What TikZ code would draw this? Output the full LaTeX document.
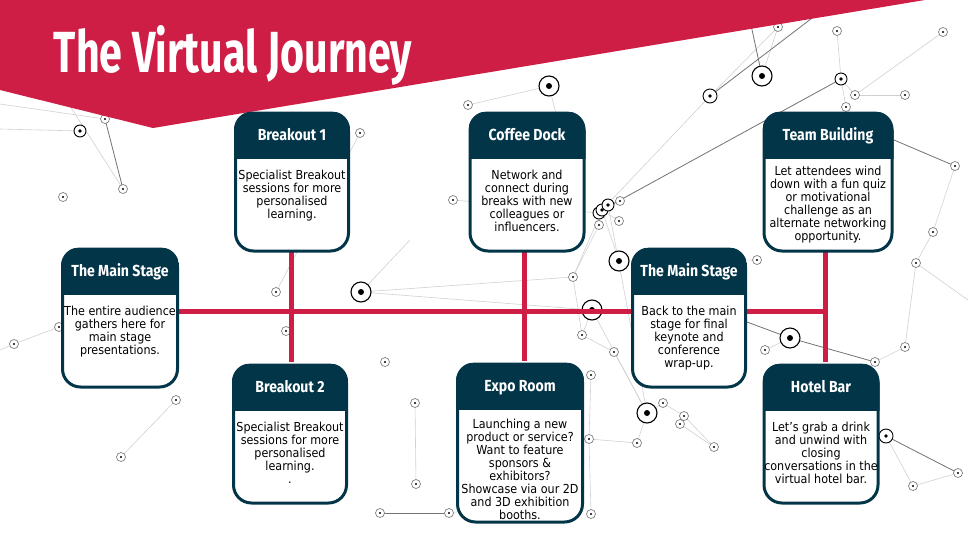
\documentclass[tikz,border=0pt]{standalone}
\usepackage{fontspec}
\setmainfont{DejaVu Sans}
\newfontfamily\bodyfont[FakeStretch=0.9]{DejaVu Sans}
\newfontfamily\bannerfont[FakeStretch=0.71]{Fira Sans}
\newfontfamily\headfont[FakeStretch=0.88]{Fira Sans}
\usetikzlibrary{calc}

\definecolor{stagenavy}{RGB}{3,53,73}
\definecolor{journeyred}{RGB}{206,30,70}

\begin{document}
\begin{tikzpicture}[x=1pt,y=-1pt,
    netline/.style={draw=black!18,line width=0.6pt},
    netdark/.style={draw=black!55,line width=0.8pt},
    ring/.style={draw=black!50,line width=0.7pt,fill=white},
    bigring/.style={draw=black,line width=1.1pt,fill=white},
    route/.style={draw=journeyred,line width=5pt},
    stagebox/.style={draw=stagenavy,line width=3pt,fill=white,rounded corners=18pt,inner sep=0pt},
    stagetitle/.style={text=white,font=\headfont\bfseries\fontsize{16}{16}\selectfont,inner sep=0pt},
    stagetext/.style={align=center,inner sep=0pt,font=\bodyfont\fontsize{12.4}{13}\selectfont}]
  \useasboundingbox (0,0) rectangle (968,533);
  \fill[white] (0,0) rectangle (968,533);

  % background network
  \foreach \p/\px/\py in {a1/105/119,a2/123/189,a3/63/197,a4/14/344,a5/59/327,a6/176/400,a7/121/457,
      a8/276/292,a9/286/331,a10/360/133,a11/468/105,a12/453/200,a13/385/362,a14/415/403,a15/416/484,
      a16/380/513,a17/449/513,a18/620/201,a19/619/221,a20/599/225,a21/573/277,a22/582/335,a23/614/352,
      a24/591/375,a25/663/403,a26/684/416,a27/680/424,a28/714/447,a29/637/443,a30/589/439,a31/591/514,
      a32/757/260,a33/778/27,a34/837/31,a35/943/32,a36/841/79,a37/855/95,a38/846/107,a39/905/95,
      a40/955/166,a41/933/232,a42/913/486,a43/958/473,a44/765/350,a45/875/362,a46/905/347,a47/916/263,
      b1/80/131,b2/361/292,b3/549/86,b4/762/76,b5/710/96,b6/619/261,b7/592/310,b8/647/413,b9/790/338,
      b10/886/436,c1/602/210,c2/608/205,c3/599/213,
      e1/0/129,e2/0/104,e3/0/350,e4/410/240,e5/894/140,e6/747/322,e7/470/510,e8/820/12,e9/751/25,
      e10/175/320,e11/968/300,e13/560/130,e14/70/106}
    \coordinate (\p) at (\px,\py);
  \foreach \u/\v in {e1/b1,e14/a2,e2/a1,e3/a4,a4/a5,a5/e10,a6/a7,b2/b7,b2/e4,b2/a21,a10/a8,
      a12/c3,c1/a21,c1/b5,c2/b8,b4/a33,a37/a35,a36/a38,a41/a47,a47/a46,b7/b8,b7/a22,a22/a23,a23/b8,
      b8/a25,a25/a26,a26/a28,b8/a29,a29/a30,a30/a24,a30/a31,b9/a44,a45/a46,b10/a42,a42/a43,a14/a15,
      a17/e7,a21/a22,b6/c1,a18/c2,a19/c1,a20/c3,a20/a21,b3/e13,b3/a11,a33/b5,a36/a37,a39/a37,
      a47/e11,a41/a40,a27/a28,a32/b6,a34/a36}
    \draw[netline] (\u) -- (\v);
  \foreach \u/\v in {a1/a2,b5/e8,b4/e9,a40/e5,b9/e6,b10/a43,c1/a36,a16/a17,b9/a45}
    \draw[netdark] (\u) -- (\v);
  \foreach \p in {a1,a2,a3,a4,a5,a6,a7,a8,a9,a10,a11,a12,a13,a14,a15,a16,a17,a18,a19,a20,a21,a22,a23,
      a24,a25,a26,a27,a28,a29,a30,a31,a32,a33,a34,a35,a37,a38,a39,a40,a41,a42,a43,a44,a45,a46,a47}
    {\draw[ring] (\p) circle (4.5); \fill (\p) circle (1.2);}
  \foreach \p/\r in {b1/6,a36/6,b5/7,b10/7,c3/6,c1/6,c2/6}
    {\draw[bigring,line width=0.9pt] (\p) circle (\r); \fill (\p) circle (1.8);}
  \foreach \p in {b2,b3,b4,b6,b7,b8,b9}
    {\draw[bigring] (\p) circle (10); \fill (\p) circle (3);}

  % banner
  \fill[journeyred] (0,0) -- (925,0) -- (153,128) -- (0,90) -- cycle;
  \node[text=white,font=\bannerfont\bfseries\fontsize{58}{58}\selectfont,inner sep=0pt,anchor=base]
    (title) at (233,72) {The Virtual Journey};

  % route
  \coordinate (ms1e) at (179,311);
  \coordinate (tee) at (825,311);
  \draw[route] (ms1e) -- (tee);
  \draw[route] (291,251) -- (291,362);
  \draw[route] (524,251) -- (524,361);
  \draw[route] (825,251) -- (825,362);

  % stations
  \foreach \n/\x/\y/\w/\h/\o/\t/\b in {
      ms1/120/246/118/141/58/{The Main Stage}/{The entire audience\\gathers here for\\main stage\\presentations.},
      bo1/292/110/116/141/58/{Breakout 1}/{Specialist Breakout\\sessions for more\\personalised\\learning.},
      bo2/290/362/116/141/58/{Breakout 2}/{Specialist Breakout\\sessions for more\\personalised\\learning.\\.},
      cof/527/110/117/141/58/{Coffee Dock}/{Network and\\connect during\\breaks with new\\colleagues or\\influencers.},
      exp/520/361/128/161/56/{Expo Room}/{Launching a new\\product or service?\\Want to feature\\sponsors \&\\exhibitors?\\Showcase via our 2D\\and 3D exhibition\\booths.},
      ms2/689/246/116/141/58/{The Main Stage}/{Back to the main\\stage for final\\keynote and\\conference\\wrap-up.},
      team/828/110/131/141/54/{Team Building}/{Let attendees wind\\down with a fun quiz\\or motivational\\challenge as an\\alternate networking\\opportunity.},
      bar/821/362/117/141/58/{Hotel Bar}/{Let’s grab a drink\\and unwind with\\closing\\conversations in the\\virtual hotel bar.}}
  {
    \node[stagebox,minimum width=\w-3,minimum height=\h-3,anchor=north] (\n) at (\x,\y+1.5) {};
    \begin{scope}
      \clip[rounded corners=18pt] (\n.north west) rectangle (\n.south east);
      \fill[stagenavy] (\n.north west) rectangle ($(\n.north east)+(0,47.5)$);
    \end{scope}
    \node[stagetitle,anchor=base] (\n-title) at ($(\n.north)+(0,28.5)$) {\t};
    \node[stagetext,anchor=north] (\n-text) at ($(\n.north)+(0,\o)$) {\b};
  }
\end{tikzpicture}
\end{document}
